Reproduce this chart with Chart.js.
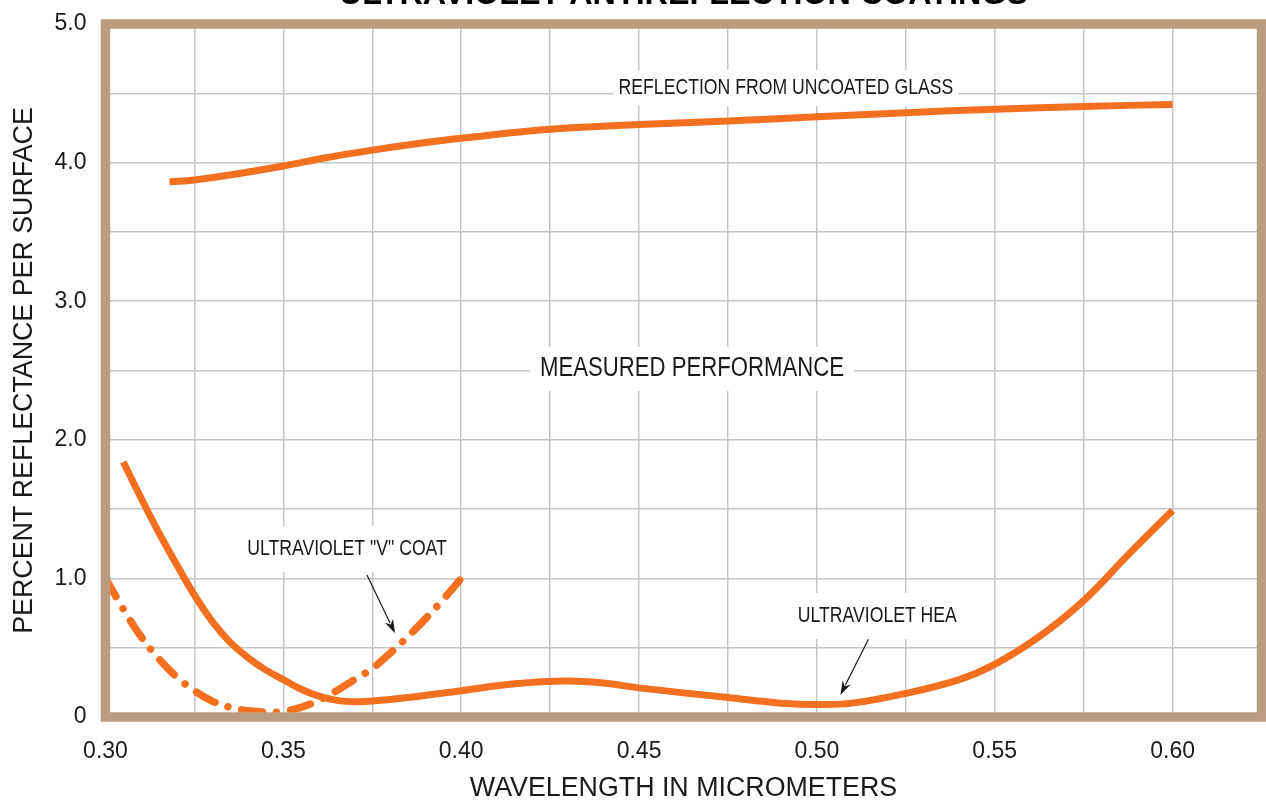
<!DOCTYPE html>
<html>
<head>
<meta charset="utf-8">
<script src="https://cdn.jsdelivr.net/npm/chart.js@4.4.1/dist/chart.umd.min.js"></script>
<style>
  html, body { margin: 0; padding: 0; background: #fff; }
  #wrap { width: 1266px; height: 805px; }
</style>
</head>
<body>
<div id="wrap"><canvas id="chart" width="1266" height="805"></canvas></div>
<script>
// wavelength (micrometers) / reflectance (%) readings
const uncoatedX = [0.318, 0.325, 0.335, 0.35, 0.362, 0.375, 0.39, 0.40, 0.425, 0.45, 0.475, 0.50, 0.525, 0.55, 0.575, 0.60];
const uncoatedY = [3.86, 3.875, 3.91, 3.975, 4.035, 4.09, 4.145, 4.175, 4.24, 4.275, 4.30, 4.33, 4.36, 4.385, 4.405, 4.42];

const heaX = [0.305, 0.31, 0.315, 0.32, 0.325, 0.33, 0.335, 0.34, 0.345, 0.35, 0.355, 0.36, 0.365, 0.37, 0.375, 0.385,
              0.40, 0.415, 0.43, 0.44, 0.45, 0.475, 0.49, 0.50, 0.51, 0.525, 0.54, 0.55, 0.5625, 0.575, 0.5875, 0.60];
const heaY = [1.84, 1.58, 1.33, 1.10, 0.88, 0.69, 0.54, 0.43, 0.34, 0.27, 0.20, 0.15, 0.12, 0.11, 0.115, 0.14,
              0.19, 0.24, 0.26, 0.245, 0.21, 0.14, 0.10, 0.09, 0.10, 0.17, 0.27, 0.38, 0.58, 0.84, 1.17, 1.49];

const vcoatX = [0.30, 0.305, 0.31, 0.315, 0.32, 0.325, 0.33, 0.335, 0.34, 0.345, 0.35, 0.355, 0.36, 0.365, 0.37,
                0.375, 0.38, 0.385, 0.39, 0.395, 0.40];
const vcoatY = [1.00, 0.78, 0.58, 0.42, 0.29, 0.19, 0.115, 0.07, 0.045, 0.035, 0.04, 0.07, 0.12, 0.19, 0.27,
                0.35, 0.46, 0.58, 0.71, 0.85, 1.00];

const xTickValues = [0.30, 0.35, 0.40, 0.45, 0.50, 0.55, 0.60];
const xTickLabels = ['0.30', '0.35', '0.40', '0.45', '0.50', '0.55', '0.60'];
const yTickValues = [0, 1, 2, 3, 4, 5];
const yTickLabels = ['0', '1.0', '2.0', '3.0', '4.0', '5.0'];

const ORANGE = '#f37021';
const FRAME = '#bc9c7f';
const INK = '#1a1a1a';
const FONT = '"Liberation Sans", Arial, Helvetica, sans-serif';

// in-plot labels, placed in data units; pad = [x, y] of the white knock-out box
const notes = [
  { text: 'REFLECTION FROM UNCOATED GLASS', at: [0.4913, 4.538], size: 21.5, pad: [5, 18] },
  { text: 'MEASURED PERFORMANCE', at: [0.4649, 2.511], size: 27, pad: [10, 22] },
  { text: 'ULTRAVIOLET "V" COAT', at: [0.3679, 1.212], size: 21.5, pad: [9, 23],
    arrow: [[0.3735, 1.0245], [0.3814, 0.604]] },
  { text: 'ULTRAVIOLET HEA', at: [0.5170, 0.729], size: 21.5, pad: [10, 23],
    arrow: [[0.5145, 0.561], [0.5066, 0.159]] }
];
const SQUEEZE = 0.82;

function toPoints(xs, ys) {
  return xs.map((x, i) => ({ x: x, y: ys[i] }));
}

function pickLabel(values, labels, v) {
  const i = values.findIndex(t => Math.abs(t - v) < 1e-6);
  return i < 0 ? '' : labels[i];
}

// keep the plot box exactly where the layout padding puts it
function noOverhang(scale) {
  scale.paddingTop = 0;
  scale.paddingBottom = 0;
  scale.paddingLeft = 0;
  scale.paddingRight = 0;
}

function narrowText(ctx, text, x, y, size) {
  ctx.save();
  ctx.font = size + 'px ' + FONT;
  ctx.fillStyle = INK;
  ctx.textAlign = 'center';
  ctx.textBaseline = 'middle';
  ctx.translate(x, y);
  ctx.scale(SQUEEZE, 1);
  ctx.fillText(text, 0, 0);
  ctx.restore();
}

const notesPlugin = {
  id: 'notes',
  beforeDatasetsDraw(chart) {
    const { ctx, scales } = chart;
    notes.forEach(n => {
      const cx = scales.x.getPixelForValue(n.at[0]);
      const cy = scales.y.getPixelForValue(n.at[1]);
      ctx.save();
      ctx.font = n.size + 'px ' + FONT;
      const w = ctx.measureText(n.text).width * SQUEEZE;
      ctx.fillStyle = '#fff';
      ctx.fillRect(cx - w / 2 - n.pad[0], cy - n.pad[1], w + 2 * n.pad[0], 2 * n.pad[1]);
      ctx.restore();
      narrowText(ctx, n.text, cx, cy, n.size);
    });
  },
  afterDatasetsDraw(chart) {
    const { ctx, scales, chartArea } = chart;
    // heavy frame around the plot
    ctx.save();
    ctx.strokeStyle = FRAME;
    ctx.lineWidth = 9.5;
    ctx.strokeRect(chartArea.left, chartArea.top, chartArea.right - chartArea.left, chartArea.bottom - chartArea.top);
    ctx.restore();

    // leader arrows
    notes.filter(n => n.arrow).forEach(n => {
      const x0 = scales.x.getPixelForValue(n.arrow[0][0]);
      const y0 = scales.y.getPixelForValue(n.arrow[0][1]);
      const x1 = scales.x.getPixelForValue(n.arrow[1][0]);
      const y1 = scales.y.getPixelForValue(n.arrow[1][1]);
      const a = Math.atan2(y1 - y0, x1 - x0);
      const len = 14, half = 4.5;
      ctx.save();
      ctx.strokeStyle = INK;
      ctx.fillStyle = INK;
      ctx.lineWidth = 1.2;
      ctx.beginPath();
      ctx.moveTo(x0, y0);
      ctx.lineTo(x1 - Math.cos(a) * len * 0.8, y1 - Math.sin(a) * len * 0.8);
      ctx.stroke();
      ctx.beginPath();
      ctx.moveTo(x1, y1);
      ctx.lineTo(x1 - Math.cos(a) * len - Math.sin(a) * half, y1 - Math.sin(a) * len + Math.cos(a) * half);
      ctx.lineTo(x1 - Math.cos(a) * len * 0.7, y1 - Math.sin(a) * len * 0.7);
      ctx.lineTo(x1 - Math.cos(a) * len + Math.sin(a) * half, y1 - Math.sin(a) * len - Math.cos(a) * half);
      ctx.closePath();
      ctx.fill();
      ctx.restore();
    });

    // heading, partly above the canvas top
    ctx.save();
    ctx.font = 'bold 32.3px ' + FONT;
    ctx.fillStyle = '#000';
    ctx.textAlign = 'center';
    ctx.textBaseline = 'alphabetic';
    ctx.fillText('ULTRAVIOLET ANTIREFLECTION COATINGS', (chartArea.left + chartArea.right) / 2, 4);
    ctx.restore();
  }
};

Chart.defaults.font.family = FONT;
Chart.defaults.color = INK;

new Chart(document.getElementById('chart'), {
  type: 'line',
  data: {
    datasets: [
      {
        label: 'Reflection from uncoated glass',
        data: toPoints(uncoatedX, uncoatedY),
        borderColor: ORANGE,
        borderWidth: 7,
        tension: 0.4
      },
      {
        label: 'Ultraviolet HEA',
        data: toPoints(heaX, heaY),
        borderColor: ORANGE,
        borderWidth: 7,
        tension: 0.4
      },
      {
        label: 'Ultraviolet "V" coat',
        data: toPoints(vcoatX, vcoatY),
        borderColor: ORANGE,
        borderWidth: 7.5,
        borderCapStyle: 'round',
        borderDash: [21, 14, 0.01, 14],
        tension: 0.4
      }
    ]
  },
  options: {
    responsive: false,
    animation: false,
    devicePixelRatio: 1,
    layout: { padding: { top: 24, right: 4.5, left: 0, bottom: 0 } },
    elements: { point: { radius: 0, hoverRadius: 0 } },
    plugins: { legend: { display: false }, tooltip: { enabled: false } },
    scales: {
      x: {
        type: 'linear',
        min: 0.30,
        max: 0.625,
        afterFit(scale) { scale.height = 88; noOverhang(scale); },
        border: { display: false },
        grid: { color: '#c6c6c6', lineWidth: 1.5, drawTicks: false },
        ticks: {
          stepSize: 0.025,
          autoSkip: false,
          maxRotation: 0,
          padding: 21,
          font: { size: 23 },
          color: INK,
          callback: v => pickLabel(xTickValues, xTickLabels, v)
        },
        title: {
          display: true,
          text: 'WAVELENGTH IN MICROMETERS',
          font: { size: 26.8 },
          color: INK,
          padding: { top: 0, bottom: 0 }
        }
      },
      y: {
        min: 0,
        max: 5,
        afterFit(scale) { scale.width = 105.5; noOverhang(scale); },
        border: { display: false },
        grid: { color: '#c6c6c6', lineWidth: 1.5, drawTicks: false },
        ticks: {
          stepSize: 0.5,
          autoSkip: false,
          padding: 19,
          font: { size: 23 },
          color: INK,
          callback: v => pickLabel(yTickValues, yTickLabels, v)
        },
        title: {
          display: true,
          text: 'PERCENT REFLECTANCE PER SURFACE',
          font: { size: 26.8 },
          color: INK,
          padding: { top: 9, bottom: 0 }
        }
      }
    }
  },
  plugins: [notesPlugin]
});
</script>
</body>
</html>
